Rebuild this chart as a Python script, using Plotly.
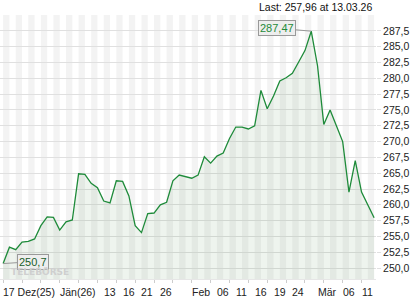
import plotly.graph_objects as go

# ---- data -------------------------------------------------------------
dates = [
    "2025-12-17", "2025-12-18", "2025-12-19", "2025-12-22", "2025-12-23", "2025-12-24",
    "2025-12-29", "2025-12-30", "2025-12-31", "2026-01-02", "2026-01-05", "2026-01-06",
    "2026-01-07", "2026-01-08", "2026-01-09", "2026-01-12", "2026-01-13", "2026-01-14",
    "2026-01-15", "2026-01-16", "2026-01-19", "2026-01-20", "2026-01-21", "2026-01-22",
    "2026-01-23", "2026-01-26", "2026-01-27", "2026-01-28", "2026-01-29", "2026-01-30",
    "2026-02-02", "2026-02-03", "2026-02-04", "2026-02-05", "2026-02-06", "2026-02-09",
    "2026-02-10", "2026-02-11", "2026-02-12", "2026-02-13", "2026-02-16", "2026-02-17",
    "2026-02-18", "2026-02-19", "2026-02-20", "2026-02-23", "2026-02-24", "2026-02-25",
    "2026-02-26", "2026-02-27", "2026-03-02", "2026-03-03", "2026-03-04", "2026-03-05",
    "2026-03-06", "2026-03-09", "2026-03-10", "2026-03-11", "2026-03-12", "2026-03-13",
]
closes = [
    250.70, 253.3, 252.9, 254.1, 254.2, 254.6,
    256.7, 258.1, 258.0, 256.0, 257.3, 257.6,
    264.9, 264.8, 263.4, 262.7, 260.6, 260.3,
    263.8, 263.7, 261.4, 256.7, 255.6, 258.6,
    258.7, 260.0, 260.4, 263.8, 264.7, 264.4,
    264.2, 264.7, 267.6, 266.6, 267.7, 268.2,
    270.5, 272.3, 272.3, 272.0, 272.5, 278.1,
    275.2, 277.2, 279.6, 280.1, 280.8, 282.6,
    284.4, 287.47, 282.0, 272.7, 275.0, 272.5,
    270.0, 262.0, 267.0, 262.0, 260.0, 257.96,
]
x_tick_dates = ["2025-12-17", "2026-01-02", "2026-01-13", "2026-01-16", "2026-01-21",
                "2026-01-26", "2026-02-02", "2026-02-06", "2026-02-11", "2026-02-16",
                "2026-02-19", "2026-02-24", "2026-03-02", "2026-03-06", "2026-03-11"]
x_tick_labels = ["17 Dez(25)", "Jän(26)", "13", "16", "21", "26", "Feb", "06", "11",
                 "16", "19", "24", "Mär", "06", "11"]
y_ticks = [250.0, 252.5, 255.0, 257.5, 260.0, 262.5, 265.0, 267.5, 270.0,
           272.5, 275.0, 277.5, 280.0, 282.5, 285.0, 287.5]

FONT = "Liberation Sans, Arial, sans-serif"
GREEN = "#1e8b3a"
FS = 10.5

fig = go.Figure()
fig.add_trace(go.Scatter(
    x=dates, y=closes, mode="lines",
    line=dict(color=GREEN, width=1.3),
    fill="tozeroy", fillcolor="rgba(40,120,40,0.08)",
    hoverinfo="skip",
))

# alternating day stripes
shapes = []
for i in range(0, len(dates) - 1, 2):
    shapes.append(dict(type="rect", xref="x", yref="paper", x0=i, x1=i + 1, y0=0, y1=1,
                       fillcolor="#f3f3f3", line=dict(width=0), layer="below"))

ann = []
for d, t in zip(x_tick_dates, x_tick_labels):
    ann.append(dict(x=d, y=0, xref="x", yref="paper", text=t, showarrow=False,
                    xanchor="left", yanchor="top", xshift=-2, yshift=-5,
                    font=dict(family=FONT, size=FS, color="#222")))

imax = closes.index(max(closes))
imin = closes.index(min(closes))
fmt = lambda v: f"{v:.2f}".replace(".", ",")
ann.append(dict(x=dates[imax], y=closes[imax], text=fmt(closes[imax]), showarrow=True,
                arrowhead=0, arrowcolor="#999", arrowwidth=1, ax=-34, ay=-3,
                bgcolor="#eeeeee", bordercolor="#999", borderwidth=1, borderpad=1,
                font=dict(family=FONT, size=11, color=GREEN)))
ann.append(dict(x=dates[imin], y=closes[imin], text=f"{closes[imin]:.1f}".replace(".", ","),
                showarrow=True, arrowhead=0, arrowcolor="#999", arrowwidth=1, ax=30, ay=-2,
                bgcolor="#eeeeee", bordercolor="#999", borderwidth=1, borderpad=1,
                font=dict(family=FONT, size=11, color="#1a5e2a")))
ann.append(dict(x=dates[6], y=0, xref="x", yref="paper", text="<b>TELEBÖRSE</b>",
                showarrow=False, xanchor="center", yanchor="bottom", yshift=0, xshift=-1,
                font=dict(family="DejaVu Sans", size=9, color="#cfcfcf")))
ann.append(dict(x=1, y=1, xref="paper", yref="paper",
                text=f"Last: {fmt(closes[-1])} at 13.03.26", showarrow=False,
                xanchor="right", yanchor="bottom", xshift=-2, yshift=0,
                font=dict(family=FONT, size=FS, color="#111")))

fig.update_layout(
    width=420, height=300, margin=dict(l=0, r=44, t=15, b=21),
    paper_bgcolor="white", plot_bgcolor="white",
    showlegend=False, separators=",.",
    shapes=shapes, annotations=ann,
    xaxis=dict(type="category", range=[-0.5, 59.3], showgrid=False, showticklabels=False,
               ticks="outside", ticklen=3, tickcolor="#cccccc", showline=True,
               linecolor="#e6e6e6", zeroline=False, fixedrange=True),
    yaxis=dict(side="right", range=[248.26, 290.03], tickvals=y_ticks, tickformat=".1f",
               showgrid=True, gridcolor="#e0e0e0", gridwidth=1, ticks="outside",
               ticklen=4, tickcolor="#e0e0e0", zeroline=False,
               tickfont=dict(family=FONT, size=FS, color="#222"), fixedrange=True),
)

fig.write_html("out.html")
